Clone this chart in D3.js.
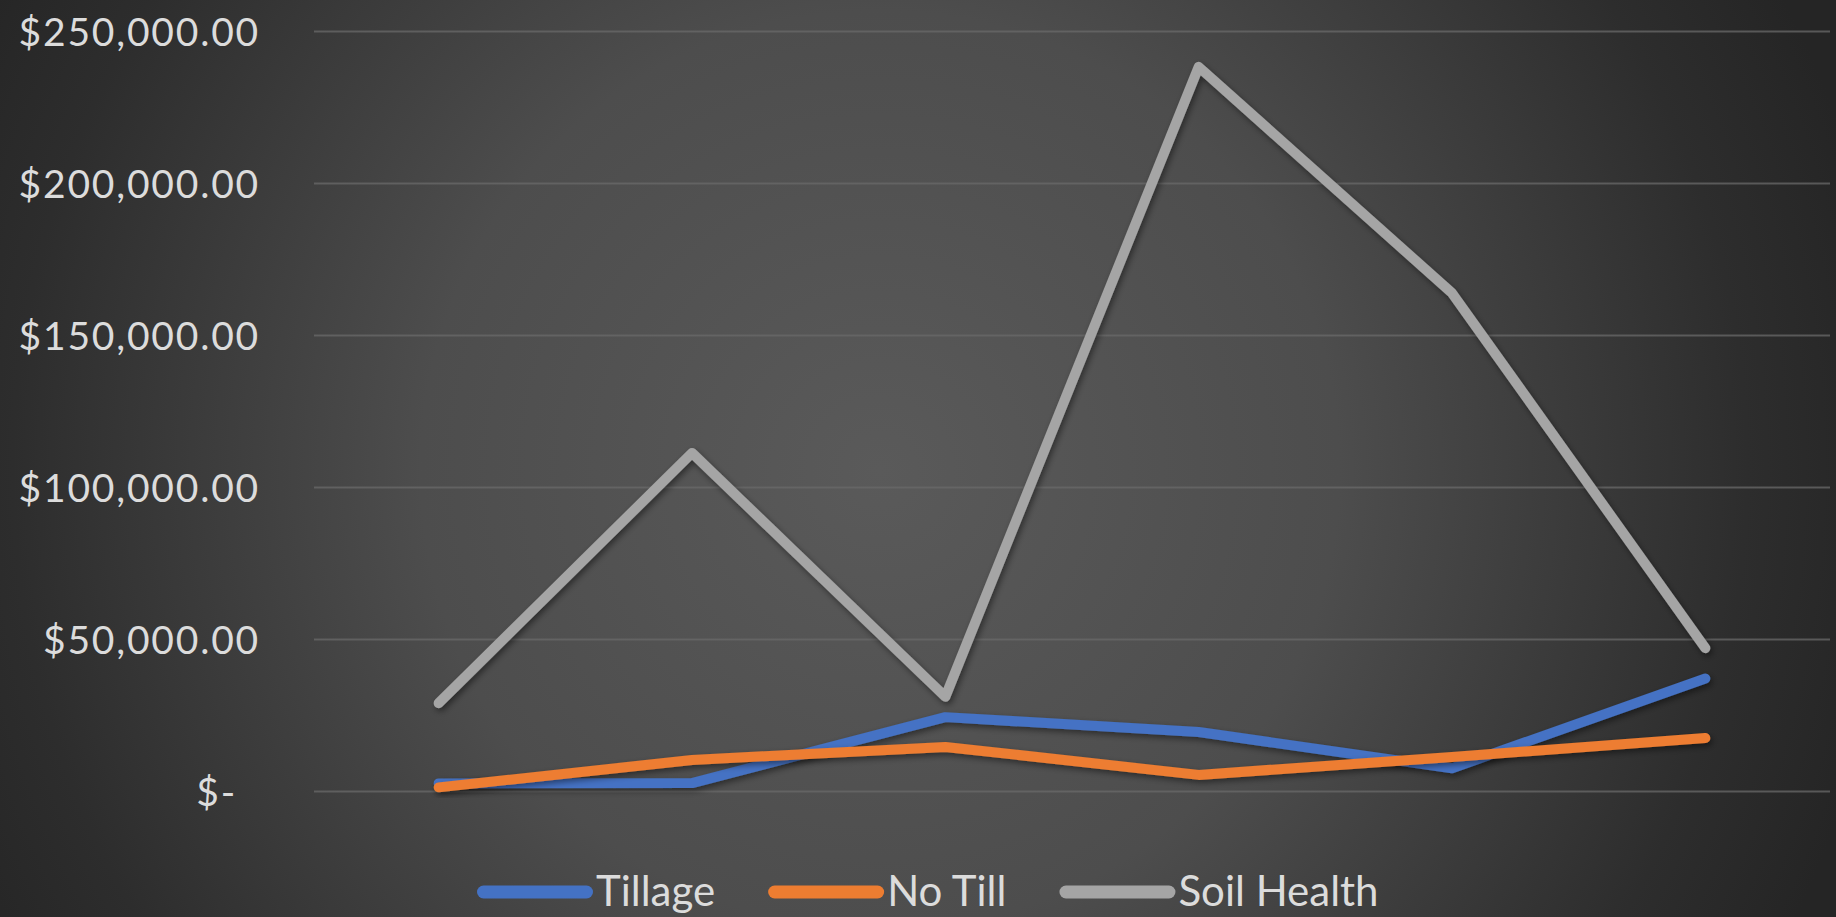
<!DOCTYPE html>
<html>
<head>
<meta charset="utf-8">
<script src="https://cdn.jsdelivr.net/npm/d3@7/dist/d3.min.js"></script>
<style>
  html, body { margin: 0; padding: 0; background: #2a2a2a; overflow: hidden; }
  svg { display: block; }
</style>
</head>
<body>
<svg id="chart" width="1836" height="917"></svg>
<script>
// ---- data ----
const categories = ["1", "2", "3", "4", "5", "6"];
const tillage    = [2500, 2600, 24300, 19400, 7500, 37000];
const noTill     = [1200, 10200, 14500, 5300, 11200, 17400];
const soilHealth = [28900, 111200, 31000, 238200, 163800, 47000];
const seriesNames  = ["Tillage", "No Till", "Soil Health"];
const seriesColors = ["#4472C4", "#ED7D31", "#A5A5A5"];
const yTicks = [0, 50000, 100000, 150000, 200000, 250000];

const series = [tillage, noTill, soilHealth].map((vals, i) => ({
  name: seriesNames[i], color: seriesColors[i], values: vals
}));

const W = 1836, H = 917;
const svg = d3.select("#chart");
const defs = svg.append("defs");

// background radial gradient
const rg = defs.append("radialGradient")
  .attr("id", "bg").attr("gradientUnits", "userSpaceOnUse")
  .attr("cx", 880).attr("cy", 470).attr("r", 1020);
rg.append("stop").attr("offset", 0).attr("stop-color", "#5a5a5a");
rg.append("stop").attr("offset", 0.45).attr("stop-color", "#4d4d4d");
rg.append("stop").attr("offset", 0.85).attr("stop-color", "#2d2d2d");
rg.append("stop").attr("offset", 1).attr("stop-color", "#252525");
svg.append("rect").attr("width", W).attr("height", H).attr("fill", "url(#bg)");

const shadow = defs.append("filter").attr("id", "shadow")
  .attr("x", "-10%").attr("y", "-10%").attr("width", "120%").attr("height", "130%");
shadow.append("feDropShadow").attr("dx", 2).attr("dy", 3)
  .attr("stdDeviation", 3).attr("flood-color", "#000").attr("flood-opacity", 0.45);

// scales
const x = d3.scalePoint().domain(categories).range([312, 1832]).padding(0.5);
const y = d3.scaleLinear().domain([0, 250000]).range([791, 31]);

// gridlines + y axis labels
const fmt = d => d === 0 ? "$-" : "$" + d3.format(",.2f")(d);
const yAxis = d3.axisLeft(y).tickValues(yTicks).tickFormat(fmt)
  .tickSize(-(1830 - 314)).tickPadding(54);
const gy = svg.append("g").attr("transform", "translate(314,0)").call(yAxis);
gy.select(".domain").remove();
gy.selectAll(".tick line").attr("stroke", "#6a6a6a").attr("stroke-opacity", 0.75).attr("stroke-width", 2);
gy.selectAll(".tick text")
  .attr("fill", "#dcdcdc")
  .style("font-family", "Lato, 'Open Sans', sans-serif")
  .style("font-size", "39px")
  .style("letter-spacing", "1.8px")
  .attr("dy", "0.36em")
  .attr("dx", d => d === 0 ? -23 : 0);

// lines
const line = d3.line().x((d, i) => x(categories[i])).y(d => y(d));
svg.append("g").selectAll("path").data(series).join("path")
  .attr("d", d => line(d.values))
  .attr("fill", "none")
  .attr("stroke", d => d.color)
  .attr("stroke-width", 10)
  .attr("stroke-linejoin", "round")
  .attr("stroke-linecap", "round")
  .attr("filter", "url(#shadow)");

// legend
const lg = svg.append("g");
let lx = 477;
series.forEach((s, i) => {
  lg.append("line")
    .attr("x1", lx + 6.5).attr("x2", lx + 116 - 6.5)
    .attr("y1", 892).attr("y2", 892)
    .attr("stroke", s.color).attr("stroke-width", 13).attr("stroke-linecap", "round");
  const t = lg.append("text")
    .attr("x", lx + 119).attr("y", 906)
    .attr("fill", "#dcdcdc")
    .style("font-family", "Lato, 'Open Sans', sans-serif")
    .style("font-size", "42px")
    .text(s.name);
  lx += 119 + t.node().getComputedTextLength() + 53;
});
</script>
</body>
</html>
